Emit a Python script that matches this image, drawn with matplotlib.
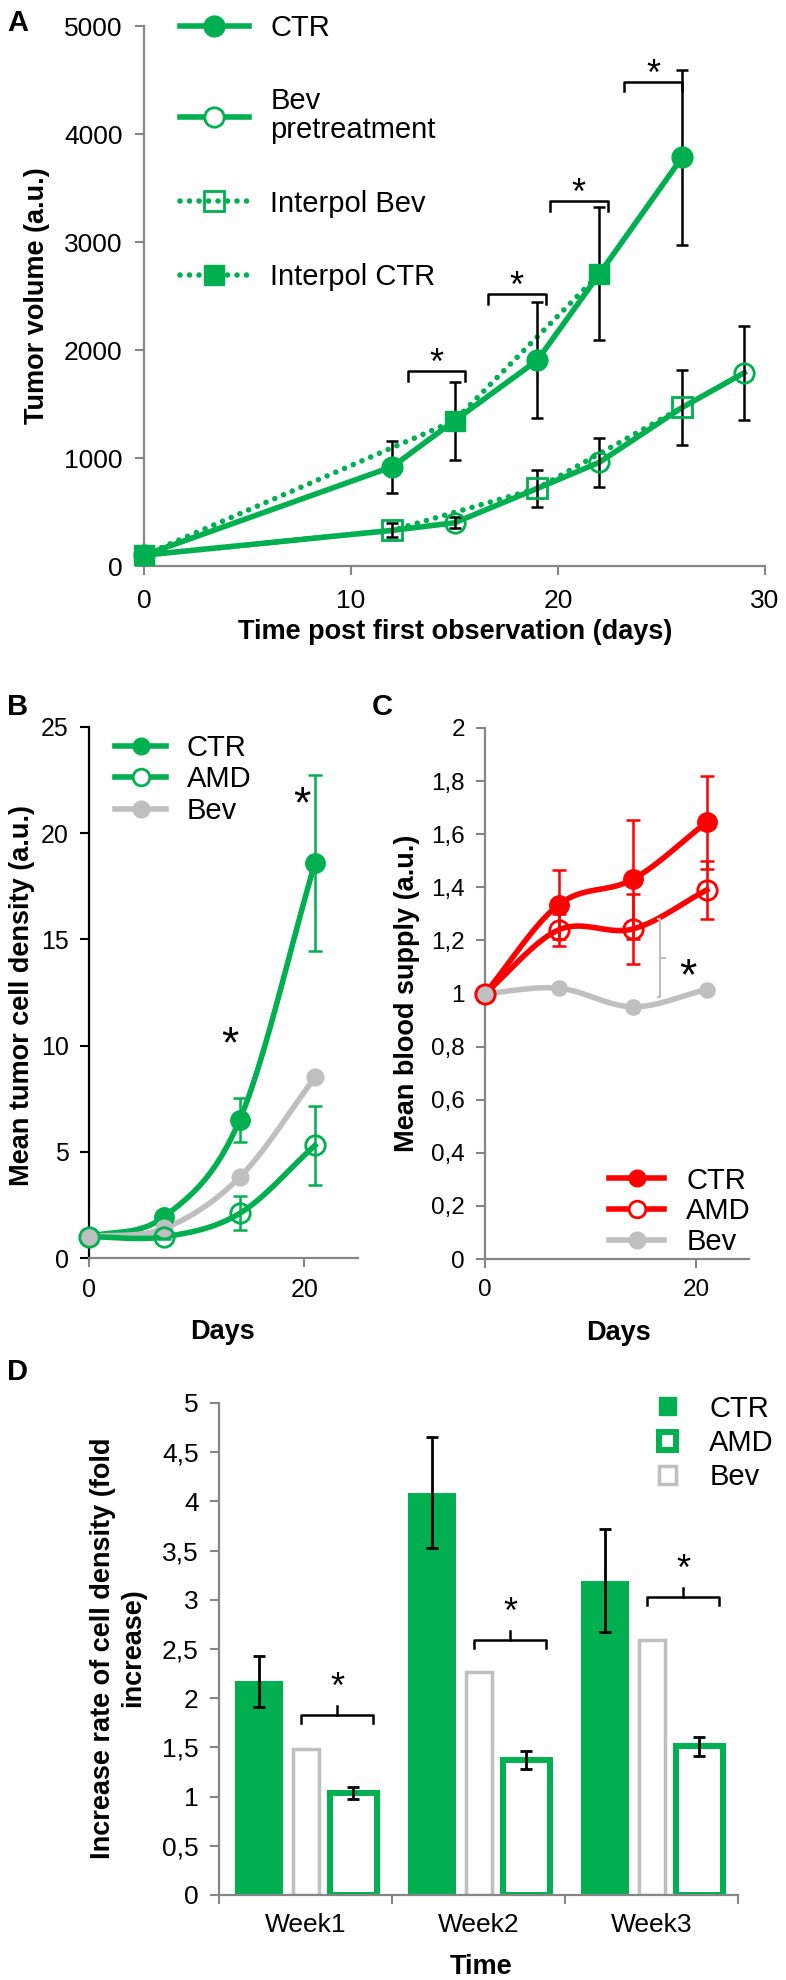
import numpy as np
import matplotlib
matplotlib.use('Agg')
import matplotlib.pyplot as plt
from matplotlib.lines import Line2D
from matplotlib.patches import Patch
from matplotlib.ticker import FuncFormatter, FixedLocator

plt.rcParams['font.family'] = ['Liberation Sans', 'DejaVu Sans']

GREEN = '#00B050'
RED = '#FF0000'
GRAY = '#BFBFBF'
AXG = '#868686'

# ---------------- data: panel A ----------------
A_ctr_days = [0, 12, 19, 26]
A_ctr_vol = [100, 920, 1905, 3785]
A_ctr_err = [0, 240, 535, 810]
A_ictr_days = [0, 15, 22]
A_ictr_vol = [100, 1345, 2705]
A_ictr_err = [0, 360, 615]
A_bev_days = [0, 15, 22, 29]
A_bev_vol = [100, 400, 960, 1790]
A_bev_err = [0, 50, 227, 435]
A_ibev_days = [0, 12, 19, 26]
A_ibev_vol = [100, 330, 718, 1468]
A_ibev_err = [0, 65, 172, 348]
A_sig_x0 = [12.75, 16.6, 19.6, 23.2]
A_sig_x1 = [15.5, 19.4, 22.4, 26.0]
A_sig_y = [1805, 2518, 3380, 4484]

# ---------------- data: panel B ----------------
B_days = [0, 7, 14, 21]
B_ctr = [1.0, 1.95, 6.5, 18.6]
B_ctr_err = [0, 0.1, 1.05, 4.15]
B_amd = [1.0, 1.0, 2.1, 5.3]
B_amd_err = [0, 0.1, 0.8, 1.85]
B_bev = [1.0, 1.4, 3.8, 8.5]
B_star_x = [13.1, 19.8]
B_star_y = [10.0, 21.3]

# ---------------- data: panel C ----------------
C_days = [0, 7, 14, 21]
C_ctr = [1.0, 1.335, 1.43, 1.645]
C_ctr_err = [0, 0.13, 0.225, 0.175]
C_amd = [1.0, 1.24, 1.243, 1.39]
C_amd_err = [0, 0.06, 0.133, 0.11]
C_bev = [1.0, 1.02, 0.95, 1.015]
C_sig_x = 16.6
C_sig_y = [0.985, 1.28]
C_star = (19.2, 1.06)

# ---------------- data: panel D ----------------
D_weeks = ['Week1', 'Week2', 'Week3']
D_ctr = [2.17, 4.09, 3.195]
D_ctr_err = [0.26, 0.56, 0.525]
D_bev = [1.48, 2.27, 2.59]
D_amd = [1.04, 1.37, 1.51]
D_amd_err = [0.06, 0.09, 0.095]
D_sig_y = [1.83, 2.59, 3.03]


def smooth(x, y, n=40):
    """Catmull-Rom curve through the points (Excel-like smoothed line)."""
    pts = np.column_stack([np.asarray(x, float), np.asarray(y, float)])
    P = np.vstack([2 * pts[0] - pts[1], pts, 2 * pts[-1] - pts[-2]])
    t = np.linspace(0, 1, n)[:, None]
    out = []
    for i in range(len(pts) - 1):
        p0, p1, p2, p3 = P[i], P[i + 1], P[i + 2], P[i + 3]
        seg = 0.5 * ((2 * p1) + (-p0 + p2) * t + (2 * p0 - 5 * p1 + 4 * p2 - p3) * t ** 2
                     + (-p0 + 3 * p1 - 3 * p2 + p3) * t ** 3)
        out.append(seg if i == 0 else seg[1:])
    s = np.vstack(out)
    return s[:, 0], s[:, 1]


def comma(v, _):
    s = ('%g' % round(v, 2))
    return s.replace('.', ',')


W, H = 786, 1980
fig = plt.figure(figsize=(W / 100, H / 100), dpi=100)


def axes_px(l, t, r, b):
    return fig.add_axes([l / W, 1 - b / H, (r - l) / W, (b - t) / H])


def style(ax, lc=AXG, bc=AXG, size=18, ypad=8, xpad=8):
    for s in ['top', 'right']:
        ax.spines[s].set_visible(False)
    ax.spines['left'].set_color(lc)
    ax.spines['bottom'].set_color(bc)
    ax.spines['left'].set_linewidth(1.6)
    ax.spines['bottom'].set_linewidth(1.6)
    ax.tick_params(axis='y', direction='out', length=6.5, width=1.5, color=lc,
                   labelsize=size, pad=ypad)
    ax.tick_params(axis='x', direction='out', length=6.5, width=1.5, color=bc,
                   labelsize=size, pad=xpad)


def ftext(x, y, s, **kw):
    fig.text(x / W, 1 - y / H, s, **kw)


LW = 4
DOT = (0, (0.01, 1.7))
LEGFS = 21

# ================= Panel A =================
axA = axes_px(144, 26, 765, 566)
style(axA, size=19, ypad=9, xpad=10)
axA.set_xlim(0, 30)
axA.set_ylim(0, 5000)
axA.set_xticks([0, 10, 20, 30])
axA.set_yticks(range(0, 5001, 1000))

ctr_all_d = np.concatenate([A_ctr_days, A_ictr_days[1:]])
ctr_all_v = np.concatenate([A_ctr_vol, A_ictr_vol[1:]])
o = np.argsort(ctr_all_d)
axA.plot(ctr_all_d[o], ctr_all_v[o], color=GREEN, lw=LW, zorder=2, clip_on=False)
bev_all_d = np.concatenate([A_bev_days, A_ibev_days[1:]])
bev_all_v = np.concatenate([A_bev_vol, A_ibev_vol[1:]])
o = np.argsort(bev_all_d)
axA.plot(bev_all_d[o], bev_all_v[o], color=GREEN, lw=LW, zorder=2, clip_on=False)
axA.plot(A_ictr_days, A_ictr_vol, color=GREEN, lw=LW, ls=DOT, dash_capstyle='round', zorder=2)
axA.plot(A_ibev_days, A_ibev_vol, color=GREEN, lw=LW, ls=DOT, dash_capstyle='round', zorder=2)

for d, v, e in [(A_ctr_days, A_ctr_vol, A_ctr_err), (A_ictr_days, A_ictr_vol, A_ictr_err),
                (A_bev_days, A_bev_vol, A_bev_err), (A_ibev_days, A_ibev_vol, A_ibev_err)]:
    axA.errorbar(d[1:], v[1:], yerr=e[1:], fmt='none', ecolor='black', elinewidth=1.8,
                 capsize=4.5, capthick=1.8, zorder=3)

axA.plot(A_ctr_days, A_ctr_vol, ls='none', marker='o', ms=15, color=GREEN, zorder=4, clip_on=False)
axA.plot(A_bev_days[1:], A_bev_vol[1:], ls='none', marker='o', ms=14, mfc='none', mec=GREEN,
         mew=2, zorder=4)
axA.plot(A_ibev_days[1:], A_ibev_vol[1:], ls='none', marker='s', ms=14, mfc='none', mec=GREEN,
         mew=2, zorder=4)
axA.plot(A_ictr_days, A_ictr_vol, ls='none', marker='s', ms=15, color=GREEN, zorder=5, clip_on=False)

for x0, x1, y in zip(A_sig_x0, A_sig_x1, A_sig_y):
    axA.plot([x0, x0, x1, x1], [y - 90, y, y, y - 90], color='black', lw=1.8, zorder=3)
    axA.text((x0 + x1) / 2, y + 60, '*', ha='center', va='center', fontsize=26)

hA = [Line2D([], [], color=GREEN, lw=LW, marker='o', ms=15),
      Line2D([], [], color=GREEN, lw=LW, marker='o', ms=14, mfc='white', mec=GREEN, mew=2),
      Line2D([], [], color=GREEN, lw=LW, ls=DOT, dash_capstyle='round', marker='s', ms=14,
             mfc='none', mec=GREEN, mew=2),
      Line2D([], [], color=GREEN, lw=LW, ls=DOT, dash_capstyle='round', marker='s', ms=15)]
legA = axA.legend(hA, ['CTR', 'Bev\npretreatment', 'Interpol Bev', 'Interpol CTR'],
                  loc='upper left', bbox_to_anchor=(0.058, 1.022), frameon=False,
                  fontsize=LEGFS, handlelength=2.35, handletextpad=0.75, labelspacing=1.55,
                  borderpad=0, borderaxespad=0)
for t in legA.get_texts():
    t.set_linespacing(1.05)

ftext(37, 296, 'Tumor volume (a.u.)', rotation=90, ha='center', va='center',
      fontsize=19.5, fontweight='bold')
ftext(455, 632, 'Time post first observation (days)', ha='center', va='center',
      fontsize=19.5, fontweight='bold')
ftext(7, 31, 'A', ha='left', va='baseline', fontsize=21, fontweight='bold')

# ================= Panel B =================
axB = axes_px(89, 727, 358, 1258)
style(axB, lc='black', bc=AXG, size=18)
axB.set_xlim(0, 25)
axB.set_ylim(0, 25)
axB.set_xticks([0, 20])
axB.set_yticks(range(0, 26, 5))

for vals, col in [(B_ctr, GREEN), (B_bev, GRAY), (B_amd, GREEN)]:
    sx, sy = smooth(B_days, vals)
    axB.plot(sx, sy, color=col, lw=LW, zorder=2, clip_on=False)
axB.errorbar(B_days[1:], B_ctr[1:], yerr=B_ctr_err[1:], fmt='none', ecolor=GREEN,
             elinewidth=1.8, capsize=5, capthick=1.8, zorder=3)
axB.errorbar(B_days[1:], B_amd[1:], yerr=B_amd_err[1:], fmt='none', ecolor=GREEN,
             elinewidth=1.8, capsize=5, capthick=1.8, zorder=3)
axB.plot(B_days, B_ctr, ls='none', marker='o', ms=14, color=GREEN, zorder=4, clip_on=False)
axB.plot(B_days, B_bev, ls='none', marker='o', ms=12, color=GRAY, zorder=4, clip_on=False)
axB.plot(B_days, B_amd, ls='none', marker='o', ms=14, mfc='none', mec=GREEN, mew=2,
         zorder=5, clip_on=False)
for x, y in zip(B_star_x, B_star_y):
    axB.text(x, y, '*', ha='center', va='center', fontsize=32)

hB = [Line2D([], [], color=GREEN, lw=LW, marker='o', ms=12),
      Line2D([], [], color=GREEN, lw=LW, marker='o', ms=12, mfc='white', mec=GREEN, mew=2),
      Line2D([], [], color=GRAY, lw=LW, marker='o', ms=12)]
axB.legend(hB, ['CTR', 'AMD', 'Bev'], loc='upper left', bbox_to_anchor=(0.097, 0.987),
           frameon=False, fontsize=LEGFS, handlelength=1.75, handletextpad=0.7,
           labelspacing=0.12, borderpad=0, borderaxespad=0)

ftext(22, 996, 'Mean tumor cell density (a.u.)', rotation=90, ha='center', va='center',
      fontsize=19.5, fontweight='bold')
ftext(223, 1332, 'Days', ha='center', va='center', fontsize=19.5, fontweight='bold')
ftext(7, 715, 'B', ha='left', va='baseline', fontsize=21, fontweight='bold')

# ================= Panel C =================
axC = axes_px(485, 728, 749, 1259)
style(axC, size=17.5)
axC.set_xlim(0, 25)
axC.set_ylim(0, 2)
axC.set_xticks([0, 20])
axC.set_yticks(np.arange(0, 2.01, 0.2))
axC.yaxis.set_major_formatter(FuncFormatter(comma))

for vals, col in [(C_ctr, RED), (C_bev, GRAY), (C_amd, RED)]:
    sx, sy = smooth(C_days, vals)
    axC.plot(sx, sy, color=col, lw=LW, zorder=2, clip_on=False)
axC.errorbar(C_days[1:], C_ctr[1:], yerr=C_ctr_err[1:], fmt='none', ecolor=RED,
             elinewidth=1.8, capsize=5, capthick=1.8, zorder=3)
axC.errorbar(C_days[1:], C_amd[1:], yerr=C_amd_err[1:], fmt='none', ecolor=RED,
             elinewidth=1.8, capsize=5, capthick=1.8, zorder=3)
axC.plot(C_days, C_ctr, ls='none', marker='o', ms=14, color=RED, zorder=4, clip_on=False)
axC.plot(C_days, C_bev, ls='none', marker='o', ms=11, color=GRAY, zorder=4, clip_on=False)
axC.plot(C_days, C_amd, ls='none', marker='o', ms=14, mfc='none', mec=RED, mew=2,
         zorder=5, clip_on=False)
axC.plot([C_sig_x - 0.25, C_sig_x, C_sig_x, C_sig_x - 0.25],
         [C_sig_y[0], C_sig_y[0], C_sig_y[1], C_sig_y[1]], color=GRAY, lw=1.5, zorder=3)
mid = (C_sig_y[0] + C_sig_y[1]) / 2
axC.plot([C_sig_x, C_sig_x + 0.45], [mid, mid], color=GRAY, lw=1.5, zorder=3)
axC.text(C_star[0], C_star[1], '*', ha='center', va='center', fontsize=32)

hC = [Line2D([], [], color=RED, lw=LW, marker='o', ms=12),
      Line2D([], [], color=RED, lw=LW, marker='o', ms=12, mfc='white', mec=RED, mew=2),
      Line2D([], [], color=GRAY, lw=LW, marker='o', ms=12)]
axC.legend(hC, ['CTR', 'AMD', 'Bev'], loc='lower left', bbox_to_anchor=(0.47, 0.005),
           frameon=False, fontsize=LEGFS, handlelength=1.9, handletextpad=0.75,
           labelspacing=0.1, borderpad=0, borderaxespad=0)

ftext(407, 993, 'Mean blood supply (a.u.)', rotation=90, ha='center', va='center',
      fontsize=19.5, fontweight='bold')
ftext(618, 1333, 'Days', ha='center', va='center', fontsize=19.5, fontweight='bold')
ftext(372, 715, 'C', ha='left', va='baseline', fontsize=21, fontweight='bold')

# ================= Panel D =================
axD = axes_px(219, 1403, 738, 1895)
style(axD, size=19)
axD.set_xlim(0, 3)
axD.set_ylim(0, 5)
axD.set_yticks(np.arange(0, 5.01, 0.5))
axD.yaxis.set_major_formatter(FuncFormatter(comma))
idx = np.arange(len(D_weeks))
axD.xaxis.set_major_locator(FixedLocator([0, 1, 2, 3]))
axD.set_xticklabels([])
axD.xaxis.set_minor_locator(FixedLocator(idx + 0.5))
axD.set_xticklabels(D_weeks, minor=True)
axD.tick_params(axis='x', which='minor', length=0, pad=13, labelsize=19)

axD.bar(idx + 0.231, D_ctr, width=0.277, color=GREEN, edgecolor='none', zorder=2)
axD.bar(idx + 0.503, D_bev, width=0.15, color='white', edgecolor=GRAY, lw=2.5, zorder=2)
axD.bar(idx + 0.777, D_amd, width=0.272, color='white', edgecolor=GREEN, lw=4.3, zorder=2)
axD.errorbar(idx + 0.231, D_ctr, yerr=D_ctr_err, fmt='none', ecolor='black', elinewidth=2,
             capsize=4.5, capthick=2, zorder=3)
axD.errorbar(idx + 0.777, D_amd, yerr=D_amd_err, fmt='none', ecolor='black', elinewidth=2,
             capsize=4.5, capthick=2, zorder=3)
for i, y in zip(idx, D_sig_y):
    x0, x1, xc = i + 0.475, i + 0.89, i + 0.683
    axD.plot([x0, x0, x1, x1], [y - 0.08, y, y, y - 0.08], color='black', lw=1.8, zorder=3)
    axD.plot([xc, xc], [y, y + 0.09], color='black', lw=1.8, zorder=3)
    axD.text(xc, y + 0.27, '*', ha='center', va='center', fontsize=26)

hD = [Patch(facecolor=GREEN, edgecolor=GREEN),
      Patch(facecolor='white', edgecolor=GREEN, lw=4.3),
      Patch(facecolor='white', edgecolor=GRAY, lw=2.5)]
axD.legend(hD, ['CTR', 'AMD', 'Bev'], loc='upper left', bbox_to_anchor=(0.848, 1.017),
           frameon=False, fontsize=LEGFS, handlelength=0.57, handleheight=0.57,
           handletextpad=1.15, labelspacing=0.22, borderpad=0, borderaxespad=0)

ftext(118, 1648, 'Increase rate of cell density (fold\nincrease)', rotation=90,
      ha='center', va='center', fontsize=19.5, fontweight='bold', linespacing=1.2,
      multialignment='center')
ftext(481, 1967, 'Time', ha='center', va='center', fontsize=19.5, fontweight='bold')
ftext(7, 1380, 'D', ha='left', va='baseline', fontsize=21, fontweight='bold')

fig.savefig('out.png', dpi=100)
